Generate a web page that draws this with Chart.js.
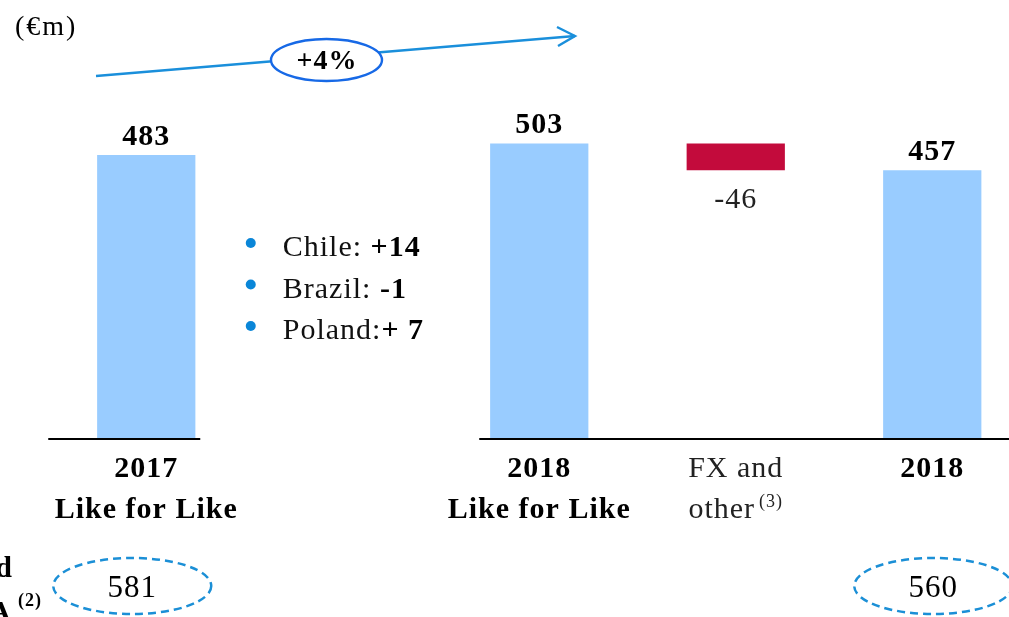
<!DOCTYPE html>
<html><head><meta charset="utf-8">
<script src="https://cdn.jsdelivr.net/npm/chart.js@4.4.1/dist/chart.umd.min.js"></script>
<style>
html,body{margin:0;padding:0;background:#fff;overflow:hidden;}
#wrap{position:relative;width:1040px;height:617px;}
</style></head><body>
<div id="wrap"><canvas id="c" width="1040" height="617"></canvas></div>
<script>
// ---- data ----
const categories = [['2017','Like for Like'], ['',''], ['2018','Like for Like'], ['FX and','other'], ['2018','']];
const categoryBold = [true, false, true, false, true];
const categoryNotes = ['', '', '', '(3)', ''];
const barValues = [483, null, 503, [457, 503], 457];
const valueLabels = ['483', '', '503', '-46', '457'];
const barColors = ['#99CCFF', '#99CCFF', '#99CCFF', '#C30B3C', '#99CCFF'];
const unitLabel = '(€m)';
const growthLabel = '+4%';
const bulletNames = ['Chile: ', 'Brazil: ', 'Poland:'];
const bulletValues = ['+14', '-1', '+ 7'];
const ebitdaTitle = ['Adjusted', 'EBITDA'];
const ebitdaNote = '(2)';
const ebitdaValues = ['581', '560'];
const ebitdaCategory = [0, 4];

const FAM = '"Liberation Serif", "DejaVu Serif", serif';
const font = (s, b) => (b ? 'bold ' : '') + s + 'px ' + FAM;
const BLUE_LINE = '#1A8FDB';

function ellipse(ctx, cx, cy, rx, ry) {
  ctx.beginPath(); ctx.ellipse(cx, cy, rx, ry, 0, 0, Math.PI * 2);
}

const overlay = {
  id: 'overlay',
  afterDatasetsDraw(chart) {
    const ctx = chart.ctx, xs = chart.scales.x, ys = chart.scales.y;
    const meta = chart.getDatasetMeta(0);
    const y0 = ys.getPixelForValue(0);
    ctx.save();
    ctx.letterSpacing = '1px';
    // axis segments
    ctx.strokeStyle = '#000'; ctx.lineWidth = 2;
    const xA = xs.getPixelForValue(0), xB = xs.getPixelForValue(2);
    ctx.beginPath();
    ctx.moveTo(xA - 98, y0 + 1); ctx.lineTo(xA + 54, y0 + 1);
    ctx.moveTo(xB - 60, y0 + 1); ctx.lineTo(chart.chartArea.right, y0 + 1);
    ctx.stroke();

    // value labels
    ctx.textAlign = 'center'; ctx.textBaseline = 'alphabetic';
    meta.data.forEach((bar, i) => {
      if (!valueLabels[i]) return;
      const top = Math.min(bar.y, bar.base), bottom = Math.max(bar.y, bar.base);
      if (Array.isArray(barValues[i])) {
        ctx.fillStyle = '#222'; ctx.font = font(30, false);
        ctx.fillText(valueLabels[i], bar.x, bottom + 38);
      } else {
        ctx.fillStyle = '#000'; ctx.font = font(30, true);
        ctx.fillText(valueLabels[i], bar.x, top - 10);
      }
    });

    // category labels
    categories.forEach((lines, i) => {
      const x = xs.getPixelForValue(i);
      ctx.font = font(30, categoryBold[i]);
      ctx.fillStyle = categoryBold[i] ? '#000' : '#222';
      ctx.textAlign = 'center';
      ctx.fillText(lines[0], x, y0 + 39);
      if (categoryNotes[i]) {
        const w = ctx.measureText(lines[1]).width;
        ctx.font = font(18, false);
        const wn = ctx.measureText(categoryNotes[i]).width;
        const total = w + 4 + wn;
        const left = x - total / 2;
        ctx.textAlign = 'left';
        ctx.fillText(categoryNotes[i], left + w + 4, y0 + 69);
        ctx.font = font(30, categoryBold[i]);
        ctx.fillText(lines[1], left, y0 + 80);
      } else {
        ctx.fillText(lines[1], x, y0 + 80);
      }
    });

    // unit label
    ctx.letterSpacing = '2px';
    ctx.fillStyle = '#000'; ctx.font = font(28, false); ctx.textAlign = 'left';
    ctx.fillText(unitLabel, 15, 35);
    ctx.letterSpacing = '1px';

    // growth arrow
    const ax0 = 96, ay0 = 76, ax1 = 575, ay1 = 36;
    ctx.strokeStyle = BLUE_LINE; ctx.lineWidth = 2.4;
    ctx.beginPath(); ctx.moveTo(ax0, ay0); ctx.lineTo(ax1, ay1); ctx.stroke();
    ctx.beginPath();
    ctx.moveTo(557, 27); ctx.lineTo(ax1, ay1); ctx.lineTo(558, 46);
    ctx.stroke();
    ellipse(ctx, 326.5, 60, 55.5, 21);
    ctx.fillStyle = '#fff'; ctx.fill();
    ctx.strokeStyle = '#1769E6'; ctx.lineWidth = 2.4; ctx.stroke();
    ctx.fillStyle = '#000'; ctx.font = font(28, true); ctx.textAlign = 'center';
    ctx.fillText(growthLabel, 327, 69);

    // bullets
    const xM = xs.getPixelForValue(1);
    bulletNames.forEach((name, k) => {
      const by = y0 - 182 + k * 41.5;
      ctx.fillStyle = '#0A86D8';
      ctx.beginPath(); ctx.arc(xM - 92, by - 13, 5, 0, Math.PI * 2); ctx.fill();
      ctx.textAlign = 'left';
      ctx.fillStyle = '#111'; ctx.font = font(30, false);
      ctx.fillText(name, xM - 60, by);
      const w = ctx.measureText(name).width;
      ctx.fillStyle = '#000'; ctx.font = font(30, true);
      ctx.fillText(bulletValues[k], xM - 60 + w, by);
    });

    // EBITDA row
    ctx.fillStyle = '#000'; ctx.font = font(30, true); ctx.textAlign = 'right';
    ctx.fillText(ebitdaTitle[0], 13, 577);
    ctx.fillText(ebitdaTitle[1], 12, 621);
    ctx.font = font(18, true); ctx.textAlign = 'left';
    ctx.fillText(ebitdaNote, 18, 606);
    ebitdaValues.forEach((v, k) => {
      const x = xs.getPixelForValue(ebitdaCategory[k]) - 14 * (k === 0 ? 1 : 0) + (k === 1 ? 1 : 0);
      ctx.setLineDash([8, 5]); ctx.strokeStyle = '#1B8FD6'; ctx.lineWidth = 2.5;
      ellipse(ctx, x, 586, 79, 28); ctx.stroke();
      ctx.setLineDash([]);
      ctx.fillStyle = '#000'; ctx.font = font(31, false); ctx.textAlign = 'center';
      ctx.fillText(v, x, 597);
    });
    ctx.restore();
  }
};

new Chart(document.getElementById('c'), {
  type: 'bar',
  data: {
    labels: categories.map(c => c.join(' ')),
    datasets: [{
      data: barValues,
      backgroundColor: barColors,
      borderWidth: 0,
      barPercentage: 0.5,
      categoryPercentage: 1.0
    }]
  },
  options: {
    responsive: false,
    animation: false,
    devicePixelRatio: 1,
    layout: { padding: { left: 48, right: 9.5, top: 28, bottom: 179 } },
    plugins: { legend: { display: false }, tooltip: { enabled: false } },
    scales: {
      x: { display: false, offset: true },
      y: { display: false, min: 0, max: 700 }
    }
  },
  plugins: [overlay]
});
</script>
</body></html>
